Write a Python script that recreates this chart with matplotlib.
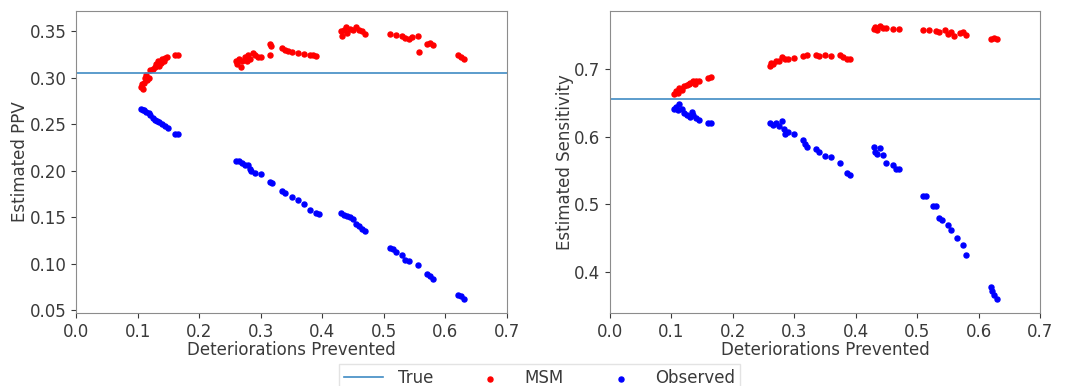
import numpy as np
import matplotlib
matplotlib.use('agg')
import matplotlib.pyplot as plt

# --------------------------------------------------------------------------- #
# Data.
true_ppv = 0.305
true_sens = 0.6555

ppv_msm_x = [0.105, 0.107, 0.108, 0.110, 0.112, 0.113, 0.115, 0.118, 0.120, 0.125,
             0.128, 0.130, 0.133, 0.135, 0.138, 0.140, 0.143, 0.145, 0.148, 0.160,
             0.165,
             0.260, 0.262, 0.265, 0.268, 0.270, 0.275, 0.278, 0.280, 0.283, 0.287,
             0.290, 0.295, 0.300, 0.315, 0.316, 0.315, 0.335, 0.340, 0.345, 0.350,
             0.360, 0.370, 0.380, 0.385, 0.390,
             0.430, 0.432, 0.435, 0.438, 0.440, 0.445, 0.450, 0.455, 0.460, 0.465,
             0.470,
             0.510, 0.520, 0.530, 0.535, 0.540, 0.545, 0.555, 0.557, 0.570, 0.575,
             0.580, 0.620, 0.625, 0.630]
ppv_msm_y = [0.290, 0.293, 0.288, 0.295, 0.300, 0.303, 0.298, 0.300, 0.308, 0.310,
             0.312, 0.315, 0.318, 0.313, 0.316, 0.320, 0.318, 0.321, 0.322, 0.325,
             0.325,
             0.318, 0.315, 0.320, 0.312, 0.318, 0.322, 0.318, 0.325, 0.320, 0.327,
             0.325, 0.323, 0.322, 0.337, 0.334, 0.325, 0.332, 0.330, 0.329, 0.328,
             0.327, 0.326, 0.325, 0.325, 0.324,
             0.350, 0.345, 0.352, 0.355, 0.348, 0.353, 0.352, 0.355, 0.352, 0.350,
             0.347,
             0.347, 0.346, 0.345, 0.343, 0.342, 0.344, 0.345, 0.328, 0.336, 0.338,
             0.335, 0.325, 0.323, 0.320]

ppv_obs_x = [0.105, 0.108, 0.110, 0.113, 0.118, 0.120, 0.125, 0.128, 0.132, 0.135,
             0.140, 0.145, 0.150, 0.160, 0.165,
             0.260, 0.265, 0.270, 0.275, 0.280, 0.282, 0.285, 0.290, 0.300, 0.315,
             0.318, 0.335, 0.340, 0.350, 0.360, 0.370, 0.380, 0.390, 0.395,
             0.430, 0.435, 0.440, 0.445, 0.450, 0.455, 0.460, 0.465, 0.470,
             0.510, 0.515, 0.520, 0.530, 0.535, 0.540, 0.555, 0.570, 0.575, 0.580,
             0.620, 0.625, 0.630]
ppv_obs_y = [0.266, 0.265, 0.265, 0.263, 0.262, 0.260, 0.257, 0.255, 0.254, 0.252,
             0.250, 0.248, 0.246, 0.240, 0.240,
             0.211, 0.210, 0.208, 0.206, 0.206, 0.202, 0.200, 0.198, 0.197, 0.188,
             0.187, 0.178, 0.176, 0.172, 0.169, 0.164, 0.158, 0.154, 0.153,
             0.155, 0.152, 0.151, 0.150, 0.148, 0.143, 0.140, 0.137, 0.135,
             0.117, 0.116, 0.113, 0.109, 0.104, 0.103, 0.098, 0.089, 0.087, 0.083,
             0.066, 0.065, 0.062]

sens_msm_x = [0.105, 0.108, 0.110, 0.113, 0.118, 0.120, 0.125, 0.128, 0.130, 0.135,
              0.138, 0.140, 0.145, 0.160, 0.165,
              0.260, 0.262, 0.265, 0.270, 0.275, 0.280, 0.285, 0.290, 0.300, 0.315,
              0.320, 0.335, 0.340, 0.350, 0.360, 0.375, 0.380, 0.385, 0.390,
              0.430, 0.432, 0.435, 0.440, 0.445, 0.450, 0.460, 0.470,
              0.510, 0.520, 0.530, 0.535, 0.545, 0.550, 0.555, 0.560, 0.570, 0.575,
              0.580, 0.620, 0.625, 0.630]
sens_msm_y = [0.663, 0.668, 0.665, 0.672, 0.670, 0.675, 0.677, 0.678, 0.680, 0.683,
              0.678, 0.683, 0.683, 0.687, 0.688,
              0.705, 0.710, 0.708, 0.712, 0.713, 0.718, 0.715, 0.716, 0.717, 0.720,
              0.722, 0.722, 0.720, 0.721, 0.720, 0.721, 0.718, 0.715, 0.716,
              0.760, 0.763, 0.758, 0.764, 0.762, 0.761, 0.760, 0.760,
              0.759, 0.758, 0.757, 0.755, 0.758, 0.753, 0.756, 0.750, 0.754, 0.755,
              0.751, 0.745, 0.747, 0.745]

sens_obs_x = [0.105, 0.108, 0.110, 0.113, 0.118, 0.120, 0.125, 0.130, 0.133, 0.135,
              0.140, 0.145, 0.160, 0.165,
              0.260, 0.265, 0.270, 0.275, 0.280, 0.283, 0.285, 0.290, 0.300, 0.315,
              0.318, 0.320, 0.335, 0.340, 0.350, 0.360, 0.375, 0.385, 0.390,
              0.430, 0.432, 0.435, 0.440, 0.445, 0.450, 0.460, 0.465, 0.470,
              0.510, 0.515, 0.525, 0.530, 0.535, 0.540, 0.550, 0.555, 0.565, 0.575,
              0.580,
              0.620, 0.622, 0.625, 0.630]
sens_obs_y = [0.642, 0.645, 0.640, 0.648, 0.641, 0.635, 0.633, 0.630, 0.637, 0.632,
              0.628, 0.625, 0.620, 0.620,
              0.620, 0.617, 0.620, 0.616, 0.623, 0.612, 0.605, 0.607, 0.605, 0.595,
              0.590, 0.585, 0.582, 0.578, 0.572, 0.570, 0.562, 0.547, 0.543,
              0.585, 0.578, 0.575, 0.583, 0.573, 0.562, 0.558, 0.552, 0.553,
              0.513, 0.512, 0.498, 0.497, 0.480, 0.477, 0.470, 0.462, 0.450, 0.440,
              0.425,
              0.378, 0.372, 0.365, 0.360]

# --------------------------------------------------------------------------- #
txt = '#3a3a3a'
plt.rcParams['font.size'] = 12
plt.rcParams['text.color'] = txt
plt.rcParams['axes.labelcolor'] = txt
plt.rcParams['xtick.color'] = txt
plt.rcParams['ytick.color'] = txt
plt.rcParams['axes.edgecolor'] = '#8c8c8c'

fig = plt.figure(figsize=(10.69, 3.86), dpi=100)
ax1 = fig.add_axes([0.0711, 0.189, 0.4032, 0.7825])
ax2 = fig.add_axes([0.5706, 0.189, 0.4023, 0.7825])

# Left panel: PPV.
ax1.axhline(true_ppv, color='#3f8bc4', lw=1.2, label='True')
ax1.scatter(ppv_msm_x, ppv_msm_y, s=13, color='red', label='MSM')
ax1.scatter(ppv_obs_x, ppv_obs_y, s=13, color='blue', label='Observed')
ax1.set_xlim(0.0, 0.7)
ax1.set_ylim(0.0468, 0.372)
ax1.set_xlabel('Deteriorations Prevented', labelpad=0)
ax1.set_ylabel('Estimated PPV', labelpad=0)

# Right panel: sensitivity.
ax2.axhline(true_sens, color='#3f8bc4', lw=1.2)
ax2.scatter(sens_msm_x, sens_msm_y, s=13, color='red')
ax2.scatter(sens_obs_x, sens_obs_y, s=13, color='blue')
ax2.set_xlim(0.0, 0.7)
ax2.set_ylim(0.339, 0.7865)
ax2.set_yticks([0.4, 0.5, 0.6, 0.7])
ax2.set_xlabel('Deteriorations Prevented', labelpad=0)
ax2.set_ylabel('Estimated Sensitivity', labelpad=0)

# Shared legend along the bottom.
fig.legend(loc='upper center', bbox_to_anchor=(0.505, 0.078), ncol=3,
           handlelength=2.3, columnspacing=2.3, handletextpad=0.9,
           edgecolor='#dddddd', fancybox=False, borderpad=0.3)

plt.savefig('out.png', dpi=100)
